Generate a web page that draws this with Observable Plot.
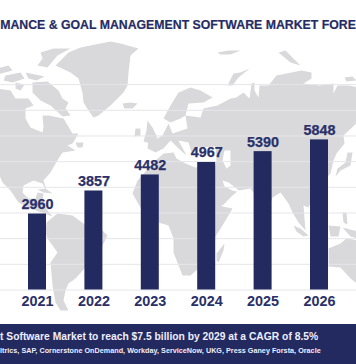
<!DOCTYPE html>
<html><head><meta charset="utf-8">
<script src="https://cdn.jsdelivr.net/npm/d3@7"></script>
<script src="https://cdn.jsdelivr.net/npm/@observablehq/plot@0.6"></script>
<style>
html,body{margin:0;padding:0;background:#fff;width:356px;height:364px;overflow:hidden;font-family:"Liberation Sans",Arial,sans-serif}
#title{height:40px;width:356px;box-sizing:border-box;padding-top:17px;white-space:nowrap;font-weight:700;font-size:12.3px;line-height:16px;color:#262c63;text-align:center;overflow:hidden;-webkit-text-stroke:.2px #262c63}
#chart{height:284px;width:356px}
#chart svg{display:block}
#foot{height:40px;width:356px;background:#232a60;color:#eef;white-space:nowrap;overflow:hidden;box-sizing:border-box;padding-top:7px;font-weight:700}
#foot .a{font-size:10.3px;line-height:12px}
#foot .b{font-size:7.2px;line-height:10px;margin-top:3px;letter-spacing:.03px}
</style></head><body>
<div id="title">MANCE &amp; GOAL MANAGEMENT SOFTWARE MARKET FORE</div>
<div id="chart"></div>
<div id="foot"><div class="a">t Software Market to reach $7.5 billion by 2029 at a CAGR of 8.5%</div>
<div class="b">ltrics, SAP, Cornerstone OnDemand, Workday, ServiceNow, UKG, Press Ganey Forsta, Oracle</div></div>
<script>
const years = [2021, 2022, 2023, 2024, 2025, 2026];
const revenue = [2960, 3857, 4482, 4967, 5390, 5848];
const gridValues = [0, 1000, 2000, 3000, 4000, 5000, 6000, 7000, 8000];

// Backdrop world map, outlines (picture units).
const landTraced = [
 // Greenland
 [[55,65],[68,52],[80,47],[100,43],[110,41],[120,43],[138,48],[130,55],[128,72],[127,85],[123,92],[110,105],[98,115],[93,117],[88,110],[83,102],[82,92],[78,78],[70,72]],
 // Arctic Canada
 [[37,65],[42,58],[40,52],[53,48],[70,48],[57,55],[47,67]],
 [[32,82],[47,81],[58,90],[62,98],[68,102],[65,108],[70,115],[62,116],[50,105],[40,100],[32,92]],
 [[5,75],[20,72],[24,78],[12,82],[3,80]],
 [[25,72],[44,76],[36,80],[28,78]],
 [[-3,68],[8,65],[12,70],[-3,74]],
 [[15,82],[24,84],[20,90],[15,88]],
 // North America
 [[-3,88],[10,90],[15,98],[28,98],[33,105],[25,108],[25,118],[30,127],[42,132],[43,127],[42,115],[48,115],[63,118],[72,133],[78,133],[72,143],[67,145],[75,150],[62,152],[58,158],[50,172],[43,180],[47,192],[42,183],[33,180],[23,185],[22,192],[28,198],[35,198],[37,192],[43,193],[42,202],[47,210],[52,216],[30,208],[18,202],[10,190],[2,182],[-3,170]],
 [[75,142],[83,142],[82,147],[77,147]],
 [[37,189],[45,188],[52,193],[43,192]],
 // South America
 [[46,222],[57,213],[72,215],[83,223],[85,225],[102,230],[107,235],[102,245],[100,250],[84,268],[75,278],[68,283],[65,290],[63,300],[68,310],[60,310],[55,302],[52,285],[50,262],[57,252],[47,238],[45,232]],
 // Africa
 [[132,193],[137,180],[146,170],[155,160],[163,153],[173,152],[176,158],[185,163],[195,167],[208,166],[213,172],[216,200],[222,206],[232,208],[222,225],[215,236],[213,250],[205,262],[190,275],[182,275],[173,252],[173,238],[168,225],[158,222],[140,207]],
 [[224,243],[223,250],[218,262],[216,260],[216,253],[220,248]],
 // Iceland, Britain, Ireland
 [[122,103],[130,102],[137,103],[132,108],[124,108]],
 [[147,120],[152,127],[157,137],[150,143],[143,141],[146,130]],
 [[135,128],[140,128],[140,135],[134,136]],
 // Scandinavia
 [[163,118],[170,105],[178,92],[190,87],[200,90],[212,97],[203,102],[188,103],[185,115],[180,118],[170,122]],
 // Eurasia
 [[162,135],[168,123],[172,133],[187,128],[185,115],[200,117],[203,108],[217,105],[230,98],[236,97],[243,92],[249,98],[251,83],[254,82],[254,90],[258,97],[259,85],[268,85],[276,75],[301,70],[311,72],[311,78],[303,83],[319,85],[333,83],[333,93],[337,85],[348,85],[358,87],[358,121],[343,135],[344,143],[336,153],[333,160],[330,173],[315,190],[308,207],[303,205],[305,230],[298,222],[292,212],[288,203],[280,192],[272,197],[262,225],[253,192],[250,188],[238,190],[232,195],[222,205],[213,200],[213,172],[216,160],[215,146],[197,147],[192,155],[188,142],[178,140],[186,155],[178,148],[170,140],[163,148],[155,152],[147,148],[148,140],[157,138]],
 // Arctic Russia islands
 [[227,85],[233,73],[240,72],[249,68],[238,77],[232,85]],
 [[217,52],[228,50],[240,50],[230,54],[220,54]],
 [[278,52],[285,50],[295,60],[300,65],[290,62]],
 [[344,77],[352,76],[356,80],[346,81]],
 // Japan, SE Asia, Oceania
 [[335,176],[340,170],[350,165],[352,152],[347,152],[345,162],[337,168]],
 [[293,225],[300,228],[308,235],[303,236],[296,231]],
 [[310,237],[325,240],[325,242],[310,240]],
 [[328,225],[340,226],[338,236],[330,236]],
 [[342,212],[346,212],[347,224],[343,222]],
 [[342,227],[358,231],[358,238],[350,236]],
 [[328,248],[340,243],[346,238],[358,240],[358,284],[350,278],[340,267],[328,266]]
];
// Inland seas: Caspian, Persian Gulf
const seasTraced = [
 [[224,150],[230,150],[230,165],[226,168],[222,160]],
 [[222,180],[228,182],[236,188],[240,192],[232,190],[224,186]]
];

// Place the traced outlines in the chart's own x (year) and y (value) units.
const stepPx = 56.4, firstYearPx = 37, baselinePx = 249.5, pxPer1000 = 25.67, chartTop = 40;
const toYear = (px) => years[0] + (px - firstYearPx) / stepPx;
const toValue = (py) => (baselinePx - (py - chartTop)) / pxPer1000 * 1000;
const toGeo = (rings) => ({type: "MultiPolygon", coordinates: rings.map((ring) => {
  const r = ring.map(([a, b]) => [toYear(a), toValue(b)]);
  return [[...r, r[0]]];
})});

const rows = years.map((year, i) => ({year, value: revenue[i]}));
const navy = "#232a60", ink = "#2a3068";
const halfBar = 9 / stepPx;

const plot = Plot.plot({
  width: 356, height: 284,
  marginTop: 0, marginRight: 0, marginLeft: 0, marginBottom: 34.5,
  style: {background: "transparent", fontFamily: '"Liberation Sans",Arial,sans-serif'},
  x: {domain: [toYear(0), toYear(356)], range: [0, 356]},
  y: {axis: null, domain: [0, toValue(chartTop)], range: [249.5, 0]},
  marks: [
    Plot.geo(toGeo(landTraced), {fill: "#d9d9dc", stroke: "none"}),
    Plot.geo(toGeo(seasTraced), {fill: "#ffffff", stroke: "none"}),
    Plot.ruleY(gridValues, {stroke: "#e6e6ea", strokeWidth: 1}),
    Plot.rectY(rows, {x1: (d) => d.year - halfBar, x2: (d) => d.year + halfBar, y1: 0, y2: "value", fill: navy}),
    Plot.text(rows, {x: "year", y: "value", text: (d) => String(d.value), dy: -5, lineAnchor: "bottom", fontSize: 14.4, fontWeight: 700, fill: ink, stroke: ink, strokeWidth: 0.25}),
    Plot.axisX({ticks: years, tickFormat: "d", tickSize: 0, tickPadding: 6, label: null, fontSize: 14.4, fontWeight: 700, color: ink, stroke: ink, strokeWidth: 0.25})
  ]
});
document.getElementById("chart").append(plot);
</script>
</body></html>
